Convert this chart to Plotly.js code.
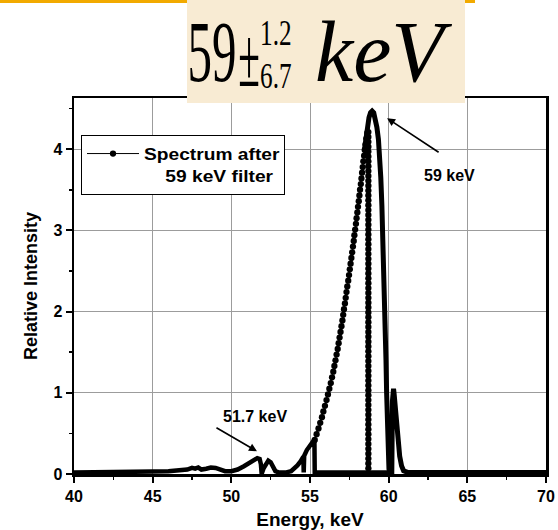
<!DOCTYPE html>
<html>
<head>
<meta charset="utf-8">
<script src="https://cdn.plot.ly/plotly-3.0.1.min.js"></script>
<style>
  html, body { margin: 0; padding: 0; background: #ffffff; }
  #chart { width: 558px; height: 530px; }
</style>
</head>
<body>
<div id="chart"></div>
<script>
// ---- Data ----
// Low-energy part of the spectrum (solid-looking, densely sampled)
const lowX = [40, 41, 42, 43, 44, 45, 46, 46.7, 47.2, 47.5, 47.7, 47.9, 48.1, 48.4, 48.7, 49.0, 49.3, 49.6, 50.0, 50.4, 50.8, 51.1, 51.4, 51.65, 51.8, 51.88, 51.92, 51.96, 52.05, 52.2, 52.35, 52.5, 52.65, 52.8, 53.0, 53.5, 53.8, 54.0, 54.2, 54.4, 54.58, 54.6, 54.63, 54.8, 55.0, 55.15, 55.28, 55.3, 56, 57, 58, 58.7, 59.5, 60.08];
const lowY = [0.02, 0.02, 0.02, 0.025, 0.025, 0.03, 0.035, 0.045, 0.055, 0.075, 0.065, 0.08, 0.055, 0.065, 0.08, 0.075, 0.055, 0.035, 0.035, 0.055, 0.095, 0.135, 0.175, 0.195, 0.185, 0.12, 0.02, 0.02, 0.07, 0.13, 0.165, 0.145, 0.085, 0.035, 0.02, 0.02, 0.035, 0.065, 0.105, 0.155, 0.215, 0.02, 0.225, 0.295, 0.355, 0.395, 0.425, 0.02, 0.02, 0.02, 0.02, 0.02, 0.02, 0.02];

// Peak top, falling edge, 60.3 keV spike and high-energy tail
const peakX = [58.45, 58.55, 58.65, 58.75, 58.85, 58.95, 59.05, 59.15, 59.25, 59.35, 59.42, 59.5, 59.57, 59.63, 59.68, 59.73, 59.78, 59.83, 59.87, 59.92, 59.97, 60.02, 60.08, 60.2, 60.24, 60.27, 60.31, 60.35, 60.4, 60.48, 60.58, 60.7, 60.82, 60.95, 61.2, 62, 64, 66, 68, 70];
const peakY = [3.98, 4.14, 4.28, 4.39, 4.45, 4.47, 4.45, 4.38, 4.27, 4.12, 3.95, 3.65, 3.3, 2.95, 2.6, 2.2, 1.8, 1.4, 1.0, 0.6, 0.25, 0.06, 0.02, 0.02, 0.9, 1.04, 1.05, 0.98, 0.85, 0.62, 0.4, 0.22, 0.1, 0.04, 0.02, 0.02, 0.02, 0.02, 0.02, 0.02];

// Rising edge: individual dots visible in the picture
const riseX = [55.30, 55.42, 55.54, 55.65, 55.76, 55.85, 55.95, 56.05, 56.14, 56.23, 56.32, 56.40, 56.48, 56.55, 56.62, 56.69, 56.76, 56.82, 56.88, 56.94, 57.00, 57.06, 57.11, 57.16, 57.22, 57.27, 57.32, 57.37, 57.43, 57.48, 57.53, 57.58, 57.63, 57.68, 57.73, 57.78, 57.82, 57.87, 57.92, 57.96, 58.01, 58.05, 58.10, 58.14, 58.18, 58.23, 58.27, 58.31, 58.35, 58.39, 58.44, 58.48, 58.53, 58.58, 58.64];
const riseY = [0.42, 0.49, 0.56, 0.63, 0.70, 0.77, 0.84, 0.91, 0.98, 1.05, 1.12, 1.19, 1.26, 1.33, 1.40, 1.47, 1.54, 1.61, 1.68, 1.75, 1.82, 1.89, 1.96, 2.03, 2.10, 2.17, 2.24, 2.31, 2.38, 2.45, 2.52, 2.59, 2.66, 2.73, 2.80, 2.87, 2.94, 3.01, 3.08, 3.15, 3.22, 3.29, 3.36, 3.43, 3.50, 3.57, 3.64, 3.71, 3.78, 3.85, 3.92, 3.99, 4.06, 4.13, 4.20];

// Dotted vertical drop at 58.7 keV
const dropEnergy = 58.71;
const dropY = [4.21, 4.15, 4.09, 4.03, 3.97, 3.91, 3.85, 3.79, 3.73, 3.67, 3.61, 3.55, 3.49, 3.43, 3.37, 3.31, 3.25, 3.19, 3.13, 3.07, 3.01, 2.95, 2.89, 2.83, 2.77, 2.71, 2.65, 2.59, 2.53, 2.47, 2.41, 2.35, 2.29, 2.23, 2.17, 2.11, 2.05, 1.99, 1.93, 1.87, 1.81, 1.75, 1.69, 1.63, 1.57, 1.51, 1.45, 1.39, 1.33, 1.27, 1.21, 1.15, 1.09, 1.03, 0.97, 0.91, 0.85, 0.79, 0.73, 0.67, 0.61, 0.55, 0.49, 0.43, 0.37, 0.31, 0.25, 0.19, 0.13, 0.07];

const xTicks = [40, 45, 50, 55, 60, 65, 70];
const yTicks = [0, 1, 2, 3, 4];
const NB = '\u00a0';
const legendName = 'Spectrum after' + NB + NB + NB + '<br>' + NB + NB + NB + NB + '59 keV filter';

// ---- Plot ----
const SANS = 'Liberation Sans, Arial, Helvetica, sans-serif';
const SERIF = 'Liberation Serif, Times New Roman, serif';
const INK = '#000000';

const traces = [
  { x: lowX, y: lowY, type: 'scatter', mode: 'lines', showlegend: false,
    line: { color: INK, width: 4.5 }, hoverinfo: 'skip' },
  { x: peakX, y: peakY, type: 'scatter', mode: 'lines', showlegend: false,
    line: { color: INK, width: 5 }, hoverinfo: 'skip' },
  { x: dropY.map(() => dropEnergy), y: dropY, type: 'scatter', mode: 'markers', showlegend: false,
    marker: { color: INK, size: 6.3 }, hoverinfo: 'skip' },
  { x: riseX, y: riseY, type: 'scatter', mode: 'lines+markers', name: legendName, showlegend: true,
    line: { color: INK, width: 1 }, marker: { color: INK, size: 6.3 } }
];

function px2paperX(px) { return (px - 74) / 472; }
function px2paperY(py) { return (474 - py) / 376; }

const layout = {
  width: 558, height: 530,
  margin: { l: 74, r: 12, t: 98, b: 56 },
  paper_bgcolor: '#ffffff', plot_bgcolor: '#ffffff',
  font: { family: SANS, color: INK },
  showlegend: true,
  legend: {
    x: px2paperX(81), y: px2paperY(135), xanchor: 'left', yanchor: 'top',
    bgcolor: '#ffffff', bordercolor: INK, borderwidth: 1,
    font: { family: SANS, size: 17, weight: 'bold', color: INK },
    valign: 'top', itemwidth: 52, tracegroupgap: 0
  },
  xaxis: {
    range: [40, 70], tickvals: xTicks, ticktext: xTicks.map(String),
    showline: true, linecolor: INK, linewidth: 2.5, mirror: true,
    ticks: 'outside', ticklen: 6, tickwidth: 2, tickcolor: INK,
    showgrid: true, gridcolor: '#9c9c9c', gridwidth: 1, zeroline: false,
    tickfont: { family: SANS, size: 16, weight: 'bold', color: INK },
    minor: { dtick: 2.5, ticks: 'outside', ticklen: 3, tickwidth: 1.5, tickcolor: INK, showgrid: false },
    title: { text: 'Energy, keV', font: { family: SANS, size: 19, weight: 'bold', color: INK }, standoff: 9 }
  },
  yaxis: {
    range: [0, 4.63], tickvals: yTicks, ticktext: yTicks.map(String),
    showline: true, linecolor: INK, linewidth: 2.5, mirror: true,
    ticks: 'outside', ticklen: 6, tickwidth: 2, tickcolor: INK,
    showgrid: true, gridcolor: '#9c9c9c', gridwidth: 1, zeroline: false,
    tickfont: { family: SANS, size: 16, weight: 'bold', color: INK },
    minor: { dtick: 0.5, ticks: 'outside', ticklen: 3, tickwidth: 1.5, tickcolor: INK, showgrid: false },
    title: { text: 'Relative Intensity', font: { family: SANS, size: 18, weight: 'bold', color: INK }, standoff: 11 }
  },
  shapes: [
    { type: 'line', xref: 'paper', yref: 'paper', layer: 'above',
      x0: px2paperX(0), x1: px2paperX(475), y0: px2paperY(1.5), y1: px2paperY(1.5),
      line: { color: '#f2aa00', width: 3 } },
    { type: 'rect', xref: 'paper', yref: 'paper', layer: 'above',
      x0: px2paperX(187), x1: px2paperX(465), y0: px2paperY(103), y1: px2paperY(0),
      fillcolor: '#f8ebd3', line: { width: 0 } }
  ],
  annotations: [
    // header formula (indices 0-4)
    { xref: 'paper', yref: 'paper', x: px2paperX(212), y: px2paperY(52), xanchor: 'center', yanchor: 'middle',
      text: '59', showarrow: false, font: { family: SERIF, size: 86, color: INK } },
    { xref: 'paper', yref: 'paper', x: px2paperX(249), y: px2paperY(58), xanchor: 'center', yanchor: 'middle',
      text: '±', showarrow: false, font: { family: SERIF, size: 84, color: INK } },
    { xref: 'paper', yref: 'paper', x: px2paperX(276), y: px2paperY(34), xanchor: 'center', yanchor: 'middle',
      text: '1.2', showarrow: false, font: { family: SERIF, size: 35, color: INK } },
    { xref: 'paper', yref: 'paper', x: px2paperX(276), y: px2paperY(77), xanchor: 'center', yanchor: 'middle',
      text: '6.7', showarrow: false, font: { family: SERIF, size: 35, color: INK } },
    { xref: 'paper', yref: 'paper', x: px2paperX(383), y: px2paperY(52), xanchor: 'center', yanchor: 'middle',
      text: '<i>keV</i>', showarrow: false, font: { family: SERIF, size: 86, color: INK } },
    // peak labels
    { xref: 'x', yref: 'y', x: 63.84, y: 3.67, text: '59 keV', showarrow: false,
      font: { family: SANS, size: 16, weight: 'bold', color: INK } },
    { xref: 'x', yref: 'y', x: 59.9, y: 4.38, ax: 63.27, ay: 3.95, axref: 'x', ayref: 'y',
      text: '', showarrow: true, arrowhead: 2, arrowsize: 1, arrowwidth: 1.6, arrowcolor: INK },
    { xref: 'x', yref: 'y', x: 51.5, y: 0.71, text: '51.7 keV', showarrow: false,
      font: { family: SANS, size: 16, weight: 'bold', color: INK } },
    { xref: 'x', yref: 'y', x: 51.63, y: 0.28, ax: 48.96, ay: 0.58, axref: 'x', ayref: 'y',
      text: '', showarrow: true, arrowhead: 2, arrowsize: 1, arrowwidth: 1.6, arrowcolor: INK }
  ]
};

const squeeze = { 0: 0.57, 1: 0.47, 2: 0.72, 3: 0.72 };

Plotly.newPlot('chart', traces, layout, { displayModeBar: false, staticPlot: true }).then(function (gd) {
  Object.keys(squeeze).forEach(function (k) {
    const t = gd.querySelector('.annotation[data-index="' + k + '"] text.annotation-text');
    if (t) {
      t.style.transformBox = 'fill-box';
      t.style.transformOrigin = 'center';
      t.style.transform = 'scaleX(' + squeeze[k] + ')';
    }
  });
  // the legend lettering in the reference is a little wider than the font
  const lt = gd.querySelector('.legend text.legendtext');
  if (lt) {
    lt.style.transformBox = 'fill-box';
    lt.style.transformOrigin = 'left center';
    lt.style.transform = 'scaleX(1.13)';
  }
});
</script>
</body>
</html>
